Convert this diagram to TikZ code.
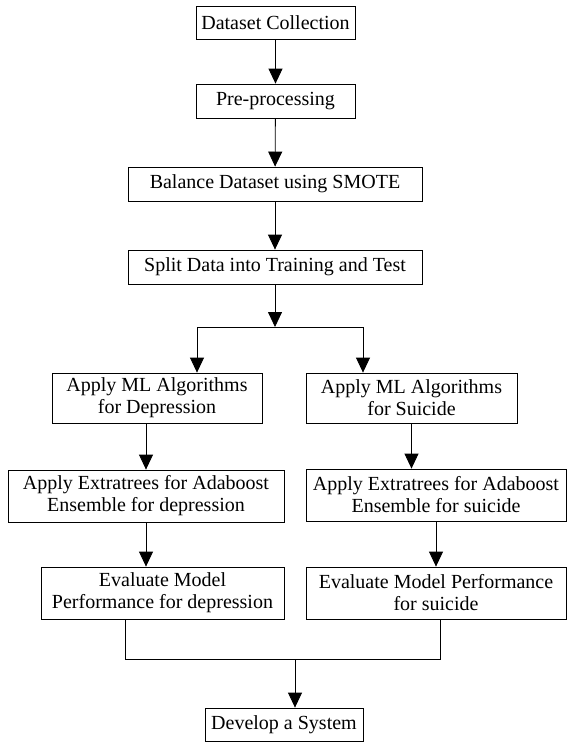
\documentclass[tikz,border=0pt]{standalone}
\usepackage{fontspec}
\setmainfont{Liberation Serif}
\usetikzlibrary{arrows, arrows.meta, positioning, calc}

\begin{document}
\begin{tikzpicture}[x=1pt, y=-1pt,
      box/.style={draw, line width=0.8pt, align=center, inner sep=0pt, font=\fontsize{20}{22}\selectfont},
      arr/.style={line width=0.8pt, -{Triangle[length=15pt, width=14pt]}}]
      \useasboundingbox (0, 0) rectangle (567, 742);

      \node[box, minimum width=159pt, minimum height=33pt] (dc) at (275.5, 22.5) {Dataset Collection};
      \node[box, minimum width=159pt, minimum height=34pt] (pp) at (275.5, 101) {Pre-processing};
      \node[box, minimum width=294pt, minimum height=34pt] (bd) at (275, 184) {Balance Dataset using SMOTE};
      \node[box, minimum width=294pt, minimum height=34pt] (sd) at (275, 267) {Split Data into Training and Test};

      \node[box, minimum width=210pt, minimum height=50pt] (mld) at (157, 398) {Apply ML Algorithms\\for Depression};
      \node[box, minimum width=211pt, minimum height=50pt] (mls) at (411.5, 398) {Apply ML Algorithms\\for Suicide};
      \node[box, minimum width=276pt, minimum height=52pt] (etd) at (146, 496) {Apply Extratrees for Adaboost\\Ensemble for depression};
      \node[box, minimum width=260pt, minimum height=52pt] (ets) at (436, 495) {Apply Extratrees for Adaboost\\Ensemble for suicide};
      \node[box, minimum width=243pt, minimum height=52pt] (evd) at (162.5, 593) {Evaluate Model\\Performance for depression};
      \node[box, minimum width=260pt, minimum height=52pt] (evs) at (436, 593) {Evaluate Model Performance\\for suicide};
      \node[box, minimum width=158pt, minimum height=33pt] (dev) at (284, 724.5) {Develop a System};

      \coordinate (j) at (275, 327);
      \coordinate (jl) at (197, 327);
      \coordinate (jr) at (363, 327);
      \coordinate (kl) at (125, 659);
      \coordinate (kr) at (440, 659);
      \coordinate (k) at (295, 659);

      \draw[arr] (dc) -- (pp);
      \draw[arr] (pp) -- (bd);
      \draw[arr] (bd) -- (sd);
      \draw[arr] (sd) -- (j);
      \draw[line width=0.8pt] (jl) -- (jr);
      \draw[arr] (jl) -- (jl |- mld.north);
      \draw[arr] (jr) -- (jr |- mls.north);
      \draw[arr] (mld.south -| etd.north) -- (etd.north);
      \draw[arr] (mls.south) -- (mls.south |- ets.north);
      \draw[arr] (etd.south) -- (etd.south |- evd.north);
      \draw[arr] (ets) -- (evs);
      \draw[line width=0.8pt] (evd.south -| kl) -- (kl) -- (kr) -- (evs.south -| kr);
      \draw[arr] (k) -- (k |- dev.north);

    \end{tikzpicture}
\end{document}
